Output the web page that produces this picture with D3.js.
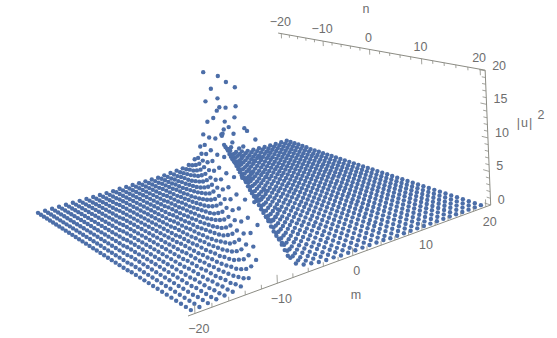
<!DOCTYPE html>
<html>
<head>
<meta charset="utf-8">
<script src="https://cdnjs.cloudflare.com/ajax/libs/d3/7.8.5/d3.min.js"></script>
<style>
html, body { margin: 0; padding: 0; background: #fff; }
text { font-family: "Liberation Sans", Arial, sans-serif; font-size: 12.5px; fill: #6e6e6e; }
</style>
</head>
<body>
<svg width="557" height="338"></svg>
<script>
var mValues = [-20,-19,-18,-17,-16,-15,-14,-13,-12,-11,-10,-9,-8,-7,-6,-5,-4,-3,-2,-1,0,1,2,3,4,5,6,7,8,9,10,11,12,13,14,15,16,17,18,19,20];
var nValues = [-20,-19,-18,-17,-16,-15,-14,-13,-12,-11,-10,-9,-8,-7,-6,-5,-4,-3,-2,-1,0,1,2,3,4,5,6,7,8,9,10,11,12,13,14,15,16,17,18,19,20];

// |u|^2, one row per n, one column per m. null = above the plot range
var heights = [
[0,0,0,0,0,0,0,0,0,0,0,0,.1,.1,.1,.1,.1,.1,.1,.2,.3,.4,.5,.8,1.5,3.5,16.6,null,9.1,2.6,1.2,.7,.5,.3,.2,.2,.1,.1,.1,.1,.1],
[0,0,0,0,0,0,0,0,0,0,0,.1,.1,.1,.1,.1,.1,.1,.2,.2,.3,.4,.6,1,2,5.9,null,null,5,1.8,.9,.6,.4,.3,.2,.2,.1,.1,.1,.1,.1],
[0,0,0,0,0,0,0,0,0,0,0,.1,.1,.1,.1,.1,.1,.1,.2,.2,.3,.5,.8,1.3,3,12,null,12,3,1.3,.8,.5,.3,.2,.2,.1,.1,.1,.1,.1,.1],
[0,0,0,0,0,0,0,0,0,0,0,.1,.1,.1,.1,.1,.1,.2,.2,.3,.4,.6,.9,1.8,4.8,null,null,5.9,2,1,.6,.4,.3,.2,.2,.1,.1,.1,.1,.1,.1],
[0,0,0,0,0,0,0,0,0,0,.1,.1,.1,.1,.1,.1,.1,.2,.2,.3,.5,.7,1.2,2.6,9.1,null,16.6,3.5,1.5,.8,.5,.4,.3,.2,.1,.1,.1,.1,.1,.1,.1],
[0,0,0,0,0,0,0,0,0,0,.1,.1,.1,.1,.1,.1,.2,.2,.3,.4,.5,.9,1.6,4,null,null,7.4,2.3,1.1,.7,.4,.3,.2,.2,.1,.1,.1,.1,.1,.1,.1],
[0,0,0,0,0,0,0,0,0,.1,.1,.1,.1,.1,.1,.1,.2,.2,.3,.4,.6,1.1,2.3,7.1,null,null,4.2,1.6,.9,.5,.4,.3,.2,.2,.1,.1,.1,.1,.1,.1,0],
[0,0,0,0,0,0,0,0,0,.1,.1,.1,.1,.1,.1,.1,.2,.3,.3,.5,.8,1.5,3.4,15.7,null,9.5,2.7,1.2,.7,.5,.3,.2,.2,.1,.1,.1,.1,.1,.1,.1,0],
[0,0,0,0,0,0,0,0,.1,.1,.1,.1,.1,.1,.1,.2,.2,.3,.4,.6,1,2,5.7,null,null,5,1.8,.9,.6,.4,.3,.2,.2,.1,.1,.1,.1,.1,.1,0,0],
[0,0,0,0,0,0,0,0,.1,.1,.1,.1,.1,.1,.1,.2,.2,.3,.5,.7,1.3,2.9,11.4,null,12.6,3.1,1.4,.8,.5,.3,.2,.2,.1,.1,.1,.1,.1,.1,.1,0,0],
[0,0,0,0,0,0,0,0,.1,.1,.1,.1,.1,.1,.2,.2,.3,.4,.6,.9,1.8,4.7,null,null,6.1,2.1,1,.6,.4,.3,.2,.2,.1,.1,.1,.1,.1,.1,.1,0,0],
[0,0,0,0,0,0,0,.1,.1,.1,.1,.1,.1,.1,.2,.2,.3,.4,.7,1.2,2.5,8.7,null,17.6,3.6,1.5,.8,.5,.4,.3,.2,.1,.1,.1,.1,.1,.1,.1,0,0,0],
[0,0,0,0,0,0,0,.1,.1,.1,.1,.1,.1,.2,.2,.3,.4,.5,.9,1.6,3.9,null,null,7.7,2.4,1.1,.7,.4,.3,.2,.2,.1,.1,.1,.1,.1,.1,.1,0,0,0],
[0,0,0,0,0,0,.1,.1,.1,.1,.1,.1,.1,.2,.2,.3,.4,.6,1.1,2.2,6.8,null,null,4.3,1.7,.9,.5,.4,.3,.2,.2,.1,.1,.1,.1,.1,.1,0,0,0,0],
[0,0,0,0,0,0,.1,.1,.1,.1,.1,.1,.1,.2,.3,.3,.5,.8,1.4,3.3,14.8,null,9.9,2.7,1.2,.7,.5,.3,.2,.2,.1,.1,.1,.1,.1,.1,.1,0,0,0,0],
[0,0,0,0,0,.1,.1,.1,.1,.1,.1,.1,.2,.2,.3,.4,.6,1,2,5.5,null,null,5.2,1.9,1,.6,.4,.3,.2,.2,.1,.1,.1,.1,.1,.1,0,0,0,0,0],
[0,0,0,0,0,.1,.1,.1,.1,.1,.1,.1,.2,.2,.3,.5,.7,1.3,2.9,10.9,null,13.3,3.2,1.4,.8,.5,.3,.2,.2,.1,.1,.1,.1,.1,.1,.1,0,0,0,0,0],
[0,0,0,0,0,.1,.1,.1,.1,.1,.1,.2,.2,.3,.4,.6,.9,1.7,4.5,null,null,6.3,2.1,1,.6,.4,.3,.2,.2,.1,.1,.1,.1,.1,.1,.1,0,0,0,0,0],
[0,0,0,0,.1,.1,.1,.1,.1,.1,.1,.2,.2,.3,.4,.7,1.2,2.5,8.3,null,18.8,3.7,1.5,.8,.5,.4,.3,.2,.1,.1,.1,.1,.1,.1,.1,0,0,0,0,0,0],
[0,0,0,0,.1,.1,.1,.1,.1,.1,.2,.2,.3,.4,.5,.8,1.6,3.8,null,null,8,2.4,1.1,.7,.4,.3,.2,.2,.1,.1,.1,.1,.1,.1,.1,.1,0,0,0,0,0,0],
[0,0,0,.1,.1,.1,.1,.1,.1,.1,.2,.2,.3,.4,.6,1,2.2,6.6,null,null,4.4,1.7,.9,.6,.4,.3,.2,.2,.1,.1,.1,.1,.1,.1,0,0,0,0,0,0,0],
[0,0,0,.1,.1,.1,.1,.1,.1,.1,.2,.3,.3,.5,.8,1.4,3.2,14,null,10.4,2.8,1.3,.7,.5,.3,.2,.2,.1,.1,.1,.1,.1,.1,.1,0,0,0,0,0,0,0],
[0,0,0,.1,.1,.1,.1,.1,.1,.2,.2,.3,.4,.6,1,1.9,5.3,null,null,5.3,1.9,1,.6,.4,.3,.2,.2,.1,.1,.1,.1,.1,.1,0,0,0,0,0,0,0,0],
[0,0,.1,.1,.1,.1,.1,.1,.1,.2,.2,.3,.5,.7,1.3,2.8,10.4,null,14,3.2,1.4,.8,.5,.3,.3,.2,.1,.1,.1,.1,.1,.1,.1,0,0,0,0,0,0,0,0],
[0,0,.1,.1,.1,.1,.1,.1,.2,.2,.3,.4,.6,.9,1.7,4.4,null,null,6.6,2.2,1,.6,.4,.3,.2,.2,.1,.1,.1,.1,.1,.1,.1,0,0,0,0,0,0,0,0],
[0,.1,.1,.1,.1,.1,.1,.1,.2,.2,.3,.4,.7,1.1,2.4,8,null,null,3.8,1.6,.8,.5,.4,.3,.2,.2,.1,.1,.1,.1,.1,.1,0,0,0,0,0,0,0,0,0],
[0,.1,.1,.1,.1,.1,.1,.1,.2,.3,.4,.5,.8,1.5,3.7,18.8,null,8.3,2.5,1.2,.7,.4,.3,.2,.2,.1,.1,.1,.1,.1,.1,.1,0,0,0,0,0,0,0,0,0],
[.1,.1,.1,.1,.1,.1,.1,.2,.2,.3,.4,.6,1,2.1,6.3,null,null,4.5,1.7,.9,.6,.4,.3,.2,.2,.1,.1,.1,.1,.1,.1,0,0,0,0,0,0,0,0,0,0],
[.1,.1,.1,.1,.1,.1,.1,.2,.2,.3,.5,.8,1.4,3.2,13.3,null,10.9,2.9,1.3,.7,.5,.3,.2,.2,.1,.1,.1,.1,.1,.1,.1,0,0,0,0,0,0,0,0,0,0],
[.1,.1,.1,.1,.1,.1,.2,.2,.3,.4,.6,1,1.9,5.2,null,null,5.5,2,1,.6,.4,.3,.2,.2,.1,.1,.1,.1,.1,.1,.1,0,0,0,0,0,0,0,0,0,0],
[.1,.1,.1,.1,.1,.1,.2,.2,.3,.5,.7,1.2,2.7,9.9,null,14.8,3.3,1.4,.8,.5,.3,.3,.2,.1,.1,.1,.1,.1,.1,.1,0,0,0,0,0,0,0,0,0,0,0],
[.1,.1,.1,.1,.1,.2,.2,.3,.4,.5,.9,1.7,4.3,null,null,6.8,2.2,1.1,.6,.4,.3,.2,.2,.1,.1,.1,.1,.1,.1,.1,0,0,0,0,0,0,0,0,0,0,0],
[.1,.1,.1,.1,.1,.2,.2,.3,.4,.7,1.1,2.4,7.7,null,null,3.9,1.6,.9,.5,.4,.3,.2,.2,.1,.1,.1,.1,.1,.1,0,0,0,0,0,0,0,0,0,0,0,0],
[.1,.1,.1,.1,.1,.2,.3,.4,.5,.8,1.5,3.6,17.6,null,8.7,2.5,1.2,.7,.4,.3,.2,.2,.1,.1,.1,.1,.1,.1,.1,0,0,0,0,0,0,0,0,0,0,0,0],
[.1,.1,.1,.1,.2,.2,.3,.4,.6,1,2.1,6.1,null,null,4.7,1.8,.9,.6,.4,.3,.2,.2,.1,.1,.1,.1,.1,.1,0,0,0,0,0,0,0,0,0,0,0,0,0],
[.1,.1,.1,.1,.2,.2,.3,.5,.8,1.4,3.1,12.6,null,11.4,2.9,1.3,.7,.5,.3,.2,.2,.1,.1,.1,.1,.1,.1,.1,0,0,0,0,0,0,0,0,0,0,0,0,0],
[.1,.1,.1,.2,.2,.3,.4,.6,.9,1.8,5,null,null,5.7,2,1,.6,.4,.3,.2,.2,.1,.1,.1,.1,.1,.1,.1,0,0,0,0,0,0,0,0,0,0,0,0,0],
[.1,.1,.1,.2,.2,.3,.5,.7,1.2,2.7,9.5,null,15.7,3.4,1.5,.8,.5,.3,.3,.2,.1,.1,.1,.1,.1,.1,.1,0,0,0,0,0,0,0,0,0,0,0,0,0,0],
[.1,.1,.2,.2,.3,.4,.5,.9,1.6,4.2,null,null,7.1,2.3,1.1,.6,.4,.3,.2,.2,.1,.1,.1,.1,.1,.1,.1,0,0,0,0,0,0,0,0,0,0,0,0,0,0],
[.1,.1,.2,.2,.3,.4,.7,1.1,2.3,7.4,null,null,4,1.6,.9,.5,.4,.3,.2,.2,.1,.1,.1,.1,.1,.1,0,0,0,0,0,0,0,0,0,0,0,0,0,0,0],
[.1,.1,.2,.3,.4,.5,.8,1.5,3.5,16.6,null,9.1,2.6,1.2,.7,.5,.3,.2,.2,.1,.1,.1,.1,.1,.1,.1,0,0,0,0,0,0,0,0,0,0,0,0,0,0,0]
];

var mTicks = [-20,-18,-16,-14,-12,-10,-8,-6,-4,-2,0,2,4,6,8,10,12,14,16,18,20];
var nTicks = [-20,-18,-16,-14,-12,-10,-8,-6,-4,-2,0,2,4,6,8,10,12,14,16,18,20];
var zTicks = [0,1,2,3,4,5,6,7,8,9,10,11,12,13,14,15,16,17,18,19,20];
var mLabels = [-20,-10,0,10,20];
var nLabels = [-20,-10,0,10,20];
var zLabels = [0,5,10,15,20];

var svg = d3.select("svg");

var mScale = d3.scaleLinear().domain([-20.8, 20.8]).range([0, 1]),
    nScale = d3.scaleLinear().domain([-20.8, 20.8]).range([0, 1]),
    zScale = d3.scaleLinear().domain([0, 20.1]).range([0, 1]);

// screen position of the floor corners of the plot box, and the vertical edge
var left = [30, 213], front = [188, 316], right = [490.7, 205], back = [288, 139];
var up = [-5, -121.5];

function det(a, b) { return a[0] * b[1] - a[1] * b[0]; }

var sigma = [left[0] - back[0] + right[0] - front[0], left[1] - back[1] + right[1] - front[1]],
    d1 = [back[0] - right[0], back[1] - right[1]],
    d2 = [front[0] - right[0], front[1] - right[1]],
    g = det(sigma, d2) / det(d1, d2),
    h = det(d1, sigma) / det(d1, d2);
var ax = back[0] * (1 + g) - left[0], ay = back[1] * (1 + g) - left[1],
    bx = front[0] * (1 + h) - left[0], by = front[1] * (1 + h) - left[1];

function project(m, n, z) {
    var u = mScale(m), v = nScale(n), w = zScale(z);
    var d = 1 + g * u + h * v;
    return [(left[0] + ax * u + bx * v + up[0] * w) / d,
            (left[1] + ay * u + by * v + up[1] * w) / d];
}

// flatten the table, dropping what is clipped at the top
var points = [];
nValues.forEach(function(n, i) {
    mValues.forEach(function(m, j) {
        if (heights[i][j] !== null) points.push({ m: m, n: n, z: heights[i][j] });
    });
});

svg.append("g").selectAll("circle")
    .data(points)
    .enter().append("circle")
    .attr("cx", function(d) { return project(d.m, d.n, d.z)[0]; })
    .attr("cy", function(d) { return project(d.m, d.n, d.z)[1]; })
    .attr("r", 2.2)
    .attr("fill", "#4c6ea8");

var axisColor = "#8c8c84";

function drawLine(a, b, width) {
    svg.append("line")
        .attr("x1", a[0]).attr("y1", a[1])
        .attr("x2", b[0]).attr("y2", b[1])
        .attr("stroke", axisColor)
        .attr("stroke-width", width);
}

function drawLabel(p, str, anchor) {
    return svg.append("text")
        .attr("x", p[0]).attr("y", p[1])
        .attr("text-anchor", anchor || "middle")
        .attr("dominant-baseline", "middle")
        .text(str);
}

function fmt(v) { return v < 0 ? "\u2212" + (-v) : "" + v; }

var mLo = mScale.domain()[0], mHi = mScale.domain()[1],
    nLo = nScale.domain()[0], nHi = nScale.domain()[1],
    zLo = zScale.domain()[0], zHi = zScale.domain()[1];

// m axis along the front floor edge
drawLine(project(mLo, nHi, zLo), project(mHi, nHi, zLo), 1);
mTicks.forEach(function(t) {
    var len = mLabels.indexOf(t) >= 0 ? 1.1 : 0.55;
    drawLine(project(t, nHi, zLo), project(t, nHi, zLo + len), 0.8);
});
mLabels.forEach(function(t) {
    var p = project(t, nHi, zLo);
    drawLabel([p[0] + 4, p[1] + 16], fmt(t));
});

// n axis along the top back edge, its far end sits a little further left
function topPoint(n, z) {
    var p = project(mHi, n, z);
    return [p[0] - 5.5 * (1 - nScale(n)), p[1]];
}
drawLine(topPoint(nLo, zHi), topPoint(nHi, zHi), 1);
nTicks.forEach(function(t) {
    var len = nLabels.indexOf(t) >= 0 ? 0.9 : 0.5;
    drawLine(topPoint(t, zHi), topPoint(t, zHi - len), 0.8);
});
nLabels.forEach(function(t) {
    var p = topPoint(t, zHi);
    drawLabel([p[0] - 1, p[1] - 11], fmt(t));
});

// z axis on the right vertical edge
drawLine(project(mHi, nHi, zLo), project(mHi, nHi, zHi), 1);
zTicks.forEach(function(t) {
    var len = zLabels.indexOf(t) >= 0 ? 1.0 : 0.6;
    drawLine(project(mHi, nHi, t), project(mHi, nHi - len, t), 0.8);
});
zLabels.forEach(function(t) {
    var p = project(mHi, nHi, t);
    drawLabel([p[0] + 7, p[1] - 4.5], fmt(t), "start");
});

drawLabel([356, 296], "m");
drawLabel([366, 10], "n");
drawLabel([525, 124], "|u|").style("letter-spacing", "1px");
drawLabel([541, 116], "2");
</script>
</body>
</html>
